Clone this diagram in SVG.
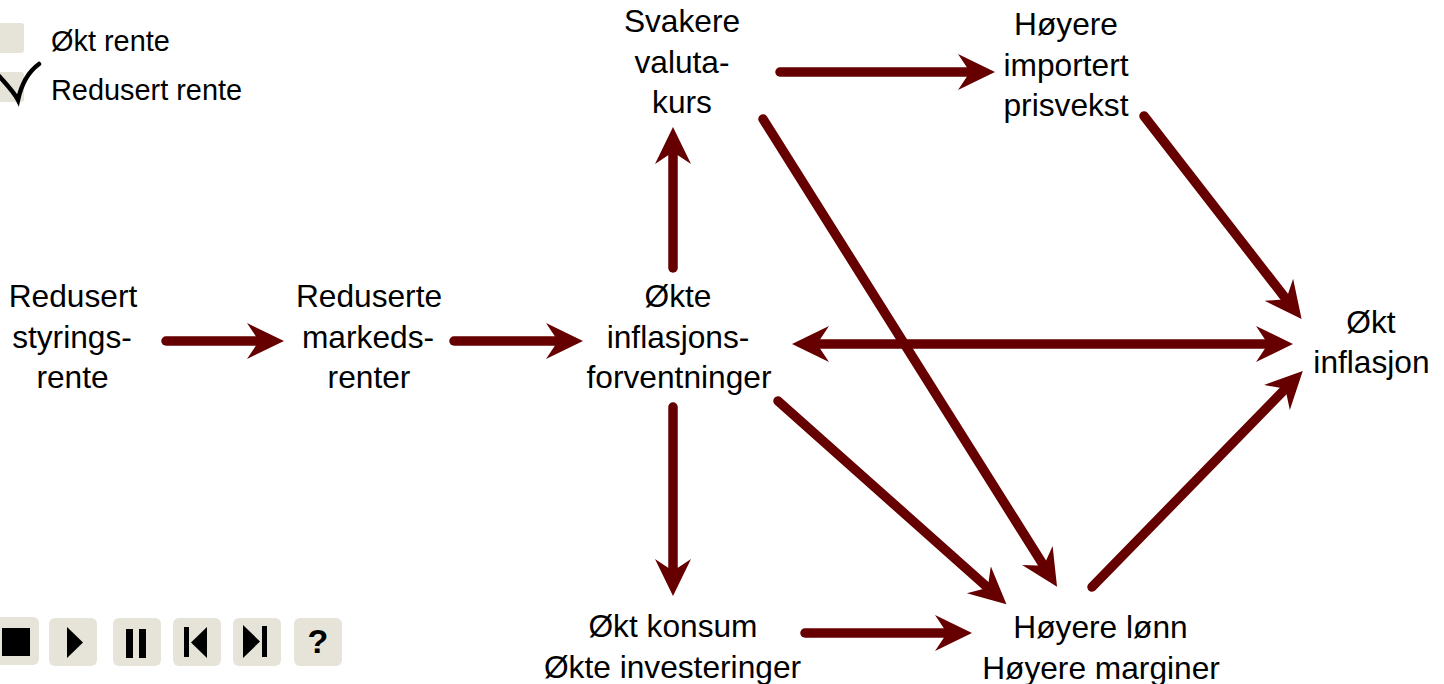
<svg xmlns="http://www.w3.org/2000/svg" width="1444" height="684" viewBox="0 0 1444 684">
<style>
text{font-family:"Liberation Sans",Arial,sans-serif;fill:#000}
.n{font-size:31.700px;text-anchor:middle}
.l{font-size:28.900px}
.b{fill:#e6e3d8}
.c{fill:none;stroke:#660000;stroke-width:9.500;stroke-linecap:round}
</style>
<defs>
<marker id="h" markerUnits="userSpaceOnUse" markerWidth="40" markerHeight="40" viewBox="0 -20 40 40" refX="23" refY="0" orient="auto-start-reverse"><path d="M0,-18L37,0L0,18L12,0Z" fill="#660000"/></marker>
</defs>
<rect width="1444" height="684" fill="#fff"/>
<g id="legend">
<rect class="b" x="-10" y="23" width="34" height="30" rx="3"/>
<rect class="b" x="-10" y="72" width="34" height="30" rx="3"/>
<path d="M-1,76C6,84 14,92 18,100C21,86 28,72 39,64" fill="none" stroke="#000" stroke-width="4.500" stroke-linecap="round"/>
<text class="l" x="51" y="51">Økt rente</text>
<text class="l" x="51" y="100">Redusert rente</text>
</g>
<g id="connectors" class="c">
<path marker-end="url(#h)" d="M166,341H270"/>
<path marker-end="url(#h)" d="M454,341H569"/>
<path marker-end="url(#h)" d="M673,268V141"/>
<path marker-end="url(#h)" d="M780,72H981"/>
<path marker-end="url(#h)" d="M763,119L1049.600,575"/>
<path marker-end="url(#h)" d="M1144,116L1293,308"/>
<path marker-start="url(#h)" marker-end="url(#h)" d="M806,344H1279"/>
<path marker-end="url(#h)" d="M778,401L996,595"/>
<path marker-end="url(#h)" d="M673,407V582"/>
<path marker-end="url(#h)" d="M805,633H958"/>
<path marker-end="url(#h)" d="M1092,587L1293,381"/>
</g>
<g id="n-styringsrente"><text class="n" x="73" y="307">Redusert</text><text class="n" x="72" y="348">styrings-</text><text class="n" x="72.500" y="388">rente</text></g>
<g id="n-markedsrenter"><text class="n" x="369" y="307">Reduserte</text><text class="n" x="368" y="348">markeds-</text><text class="n" x="369" y="388">renter</text></g>
<g id="n-forventninger"><text class="n" x="678" y="307">Økte</text><text class="n" x="678" y="348">inflasjons-</text><text class="n" x="679" y="388">forventninger</text></g>
<g id="n-valutakurs"><text class="n" x="682" y="32">Svakere</text><text class="n" x="682" y="73">valuta-</text><text class="n" x="682" y="113">kurs</text></g>
<g id="n-importert"><text class="n" x="1066" y="35">Høyere</text><text class="n" x="1066" y="76">importert</text><text class="n" x="1066" y="116">prisvekst</text></g>
<g id="n-inflasjon"><text class="n" x="1371" y="333">Økt</text><text class="n" x="1371.500" y="373">inflasjon</text></g>
<g id="n-konsum"><text class="n" x="673" y="637">Økt konsum</text><text class="n" x="672.500" y="678">Økte investeringer</text></g>
<g id="n-lonn"><text class="n" x="1100.500" y="638">Høyere lønn</text><text class="n" x="1101" y="679">Høyere marginer</text></g>
<g id="controls">
<rect class="b" x="-8" y="617" width="47" height="48" rx="6"/><rect x="2" y="628" width="28" height="28"/>
<rect class="b" x="49" y="618" width="48" height="48" rx="6"/><path d="M67,627L83,642.500L67,658Z"/>
<rect class="b" x="113" y="618" width="48" height="48" rx="6"/><path d="M126,629h7v29h-7zM139,629h7v29h-7z"/>
<rect class="b" x="173" y="618" width="48" height="48" rx="6"/><path d="M184,627h5v30h-5zM207,627V658L191,642.500Z"/>
<rect class="b" x="233" y="618" width="48" height="48" rx="6"/><path d="M262,626h5v31h-5zM243,625V658L260,641.500Z"/>
<rect class="b" x="294" y="618" width="48" height="48" rx="6"/><text x="318" y="653" font-size="34" font-weight="bold" text-anchor="middle">?</text>
</g>
</svg>
